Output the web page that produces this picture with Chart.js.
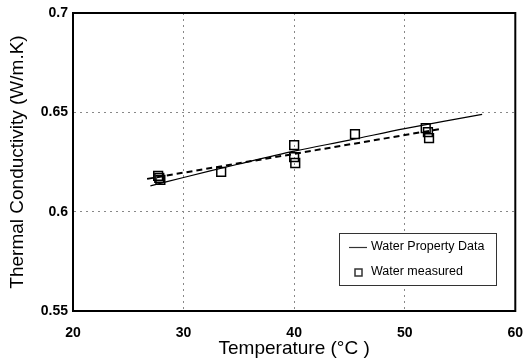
<!DOCTYPE html>
<html>
<head>
<meta charset="utf-8">
<script src="https://cdn.jsdelivr.net/npm/chart.js@4.4.0/dist/chart.umd.min.js"></script>
<style>
  html, body { margin: 0; padding: 0; background: #fff; }
  #wrap { width: 523px; height: 363px; position: relative; }
</style>
</head>
<body>
<div id="wrap"><canvas id="graph0"></canvas></div>
<script>
// water property data (solid line)
var propTemp = [27, 30, 35, 40, 45, 50, 57];
var propCond = [0.613, 0.6172, 0.624, 0.6305, 0.636, 0.6418, 0.649];

// measured points (squares)
var measTemp = [27.7, 27.8, 27.9, 33.4, 40.0, 40.0, 40.1, 45.5, 51.9, 52.1, 52.2];
var measCond = [0.618, 0.617, 0.616, 0.620, 0.6335, 0.6275, 0.6245, 0.639, 0.642, 0.640, 0.637];

// trend of measured (dashed line)
var trendTemp = [26.7, 53.2];
var trendCond = [0.6165, 0.6416];

var xTicks = [20, 30, 40, 50, 60];
var yTicks = [0.55, 0.6, 0.65, 0.7];

var fontFam = '"Liberation Sans", Arial, sans-serif';

function toPoints(xs, ys) {
  var pts = [];
  for (var i = 0; i < xs.length; i++) {
    pts.push({x: xs[i], y: ys[i]});
  }
  return pts;
}

// frame + legend inside the plot area
var framePlugin = {
  id: 'frame',
  afterDraw: function(chart) {
    var ctx = chart.ctx;
    var a = chart.chartArea;
    ctx.save();
    ctx.strokeStyle = '#000';
    ctx.lineWidth = 2;
    ctx.strokeRect(a.left, a.top, a.right - a.left, a.bottom - a.top);

    // legend box
    var bx = 339, by = 233, bw = 157, bh = 52;
    ctx.fillStyle = '#fff';
    ctx.fillRect(bx, by, bw, bh);
    ctx.lineWidth = 1;
    ctx.strokeStyle = '#333';
    ctx.strokeRect(bx + 0.5, by + 0.5, bw, bh);

    var ds = chart.data.datasets;
    ctx.font = '12.5px ' + fontFam;
    ctx.fillStyle = '#000';
    ctx.textBaseline = 'middle';

    ctx.beginPath();
    ctx.lineWidth = 1.2;
    ctx.moveTo(349, 247.5);
    ctx.lineTo(367, 247.5);
    ctx.stroke();
    ctx.fillText(ds[0].label, 371, 247);

    ctx.lineWidth = 1.5;
    ctx.strokeRect(355, 269, 7, 7);
    ctx.fillText(ds[1].label, 371, 272);
    ctx.restore();
  }
};

function drawGraph() {
  var ctx = document.getElementById('graph0');
  new Chart(ctx, {
    type: 'scatter',
    data: {
      datasets: [{
        label: 'Water Property Data',
        type: 'line',
        data: toPoints(propTemp, propCond),
        borderColor: '#000',
        borderWidth: 1.2,
        pointRadius: 0,
        tension: 0.3,
        fill: false
      }, {
        label: 'Water measured',
        data: toPoints(measTemp, measCond),
        pointStyle: 'rect',
        pointRadius: 6.2,
        borderColor: '#000',
        borderWidth: 1.5,
        backgroundColor: 'rgba(0,0,0,0)'
      }, {
        label: 'trend',
        type: 'line',
        data: toPoints(trendTemp, trendCond),
        borderColor: '#000',
        borderWidth: 2,
        borderDash: [6, 4],
        pointRadius: 0,
        fill: false
      }]
    },
    options: {
      responsive: true,
      maintainAspectRatio: false,
      animation: false,
      layout: {padding: {top: 13, right: 7, left: 0, bottom: 0}},
      plugins: {
        legend: {display: false},
        tooltip: {enabled: false}
      },
      scales: {
        x: {
          type: 'linear',
          min: 20,
          max: 60,
          afterBuildTicks: function(scale) {
            scale.ticks = xTicks.map(function(v) { return {value: v}; });
          },
          afterFit: function(scale) {
            scale.height = 52;
            scale.paddingLeft = 0;
            scale.paddingRight = 0;
          },
          grid: {color: '#888', drawTicks: false, lineWidth: 1},
          border: {display: true, color: '#000', width: 2, dash: [2, 4]},
          ticks: {
            color: '#000',
            padding: 14,
            font: {family: fontFam, size: 14, weight: 'bold'}
          },
          title: {
            display: true,
            text: 'Temperature (°C )',
            color: '#000',
            padding: {top: 0, bottom: 3},
            font: {family: fontFam, size: 19}
          }
        },
        y: {
          min: 0.55,
          max: 0.7,
          afterBuildTicks: function(scale) {
            scale.ticks = yTicks.map(function(v) { return {value: v}; });
          },
          afterFit: function(scale) {
            scale.width = 73;
            scale.paddingTop = 0;
            scale.paddingBottom = 0;
          },
          grid: {color: '#888', drawTicks: false, lineWidth: 1},
          border: {display: true, color: '#000', width: 2, dash: [2, 4]},
          ticks: {
            color: '#000',
            padding: 5,
            font: {family: fontFam, size: 14, weight: 'bold'},
            callback: function(v) { return String(Number(v.toFixed(2))); }
          },
          title: {
            display: true,
            text: 'Thermal Conductivity (W/m.K)',
            color: '#000',
            padding: {top: 6, bottom: 0},
            font: {family: fontFam, size: 19}
          }
        }
      }
    },
    plugins: [framePlugin]
  });
}

drawGraph();
</script>
</body>
</html>
